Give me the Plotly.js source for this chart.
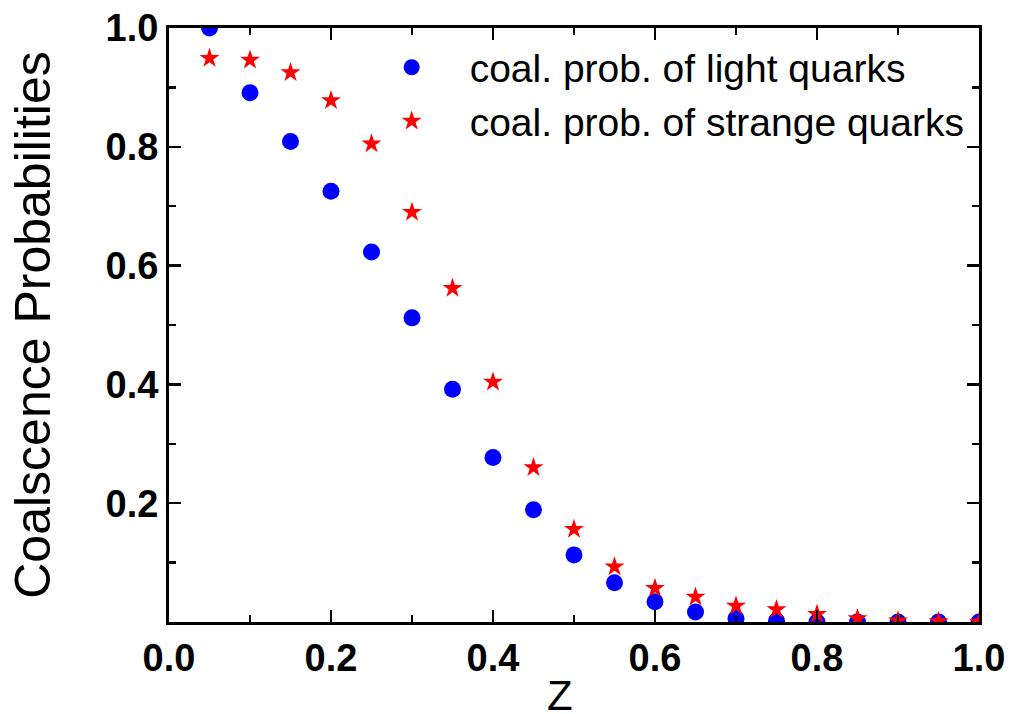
<!DOCTYPE html>
<html>
<head>
<meta charset="utf-8">
<script src="https://cdn.plot.ly/plotly-3.0.1.min.js"></script>
<style>
  html, body { margin: 0; padding: 0; background: #fff; }
  #chart { width: 1010px; height: 714px; }
</style>
</head>
<body>
<div id="chart"></div>
<script>
// Coalescence probability versus Z for light and strange quarks
const zValues = [0.05, 0.10, 0.15, 0.20, 0.25, 0.30, 0.35, 0.40, 0.45, 0.50,
                 0.55, 0.60, 0.65, 0.70, 0.75, 0.80, 0.85, 0.90, 0.95, 1.00];
const lightQuarks = [1.000, 0.891, 0.809, 0.725, 0.623, 0.512, 0.392, 0.277, 0.189, 0.113,
                     0.066, 0.034, 0.017, 0.006, 0.002, 0.000, 0.000, 0.000, 0.000, 0.000];
const strangeQuarks = [0.949, 0.946, 0.925, 0.878, 0.805, 0.690, 0.562, 0.404, 0.260, 0.156,
                       0.093, 0.057, 0.042, 0.027, 0.021, 0.013, 0.006, 0.002, 0.001, 0.000];
const xTicks = [0.0, 0.2, 0.4, 0.6, 0.8, 1.0];
const xTickText = ['0.0', '0.2', '0.4', '0.6', '0.8', '1.0'];
const yTicks = [0.2, 0.4, 0.6, 0.8, 1.0];
const yTickText = ['0.2', '0.4', '0.6', '0.8', '1.0'];
const xTitle = 'Z';
const yTitle = 'Coalscence Probabilities';

const FONT = 'Liberation Sans, Arial, Helvetica, sans-serif';

const traces = [
  {
    x: zValues, y: lightQuarks, type: 'scatter', mode: 'markers',
    name: 'coal. prob. of light quarks',
    marker: { symbol: 'circle', size: 17, color: '#0000ff' }
  },
  {
    x: zValues, y: strangeQuarks, type: 'scatter', mode: 'markers',
    name: 'coal. prob. of strange quarks',
    marker: { symbol: 'star', size: 15, color: '#ff0000' }
  }
];

const axisCommon = {
  showline: true, linecolor: '#000', linewidth: 3, mirror: 'allticks',
  ticks: 'inside', ticklen: 12, tickwidth: 2.5, tickcolor: '#000',
  showgrid: false, zeroline: false,
  tickfont: { family: FONT, size: 38, color: '#000', weight: 'bold' }
};

const layout = {
  width: 1010, height: 714,
  margin: { l: 169, r: 31, t: 28, b: 92 },
  paper_bgcolor: '#fff', plot_bgcolor: '#fff',
  showlegend: true,
  legend: {
    x: 0.228, y: 0.9875, xanchor: 'left', yanchor: 'top',
    bgcolor: 'rgba(0,0,0,0)', borderwidth: 0,
    itemwidth: 106,
    font: { family: FONT, size: 39, color: '#000' }
  },
  xaxis: Object.assign({}, axisCommon, {
    range: [0, 1],
    tickmode: 'array', tickvals: xTicks, ticktext: xTickText,
    minor: { dtick: 0.1, ticks: 'inside', ticklen: 7, tickwidth: 2.5, tickcolor: '#000', showgrid: false }
  }),
  yaxis: Object.assign({}, axisCommon, {
    range: [0, 1],
    tickmode: 'array', tickvals: yTicks, ticktext: yTickText,
    minor: { dtick: 0.1, ticks: 'inside', ticklen: 7, tickwidth: 2.5, tickcolor: '#000', showgrid: false },
    title: { text: yTitle, font: { family: FONT, size: 50, color: '#000' }, standoff: 40 }
  }),
  annotations: [{
    text: xTitle, xref: 'paper', yref: 'paper',
    x: 0.4827, y: -0.081, xanchor: 'center', yanchor: 'top',
    showarrow: false,
    font: { family: FONT, size: 42, color: '#000' }
  }]
};

Plotly.newPlot('chart', traces, layout, { displayModeBar: false, staticPlot: true });
</script>
</body>
</html>
